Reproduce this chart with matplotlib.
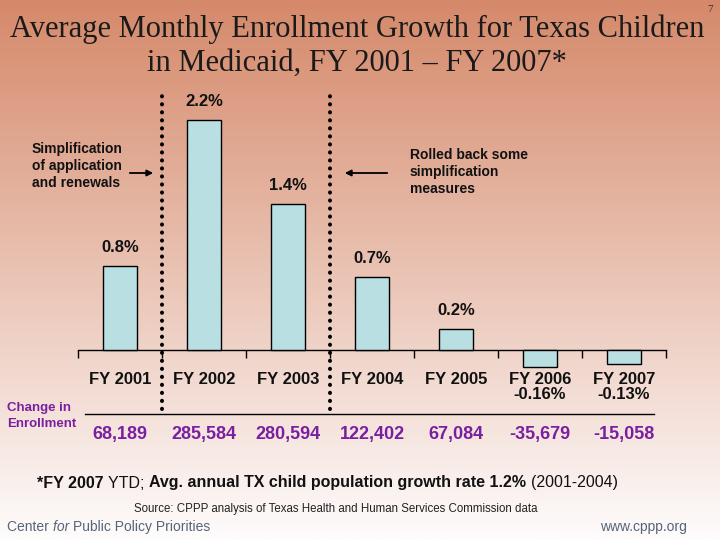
import numpy as np
import matplotlib
matplotlib.use('Agg')
import matplotlib.pyplot as plt
from matplotlib.transforms import blended_transform_factory

# data
years = ['FY 2001', 'FY 2002', 'FY 2003', 'FY 2004', 'FY 2005', 'FY 2006', 'FY 2007']
growth = [0.8, 2.2, 1.4, 0.7, 0.2, -0.16, -0.13]
enroll_change = [68189, 285584, 280594, 122402, 67084, -35679, -15058]
policy_breaks = [0.5, 2.5]  # between FY2001/FY2002 and FY2003/FY2004

W, H = 720, 540
plt.rcParams['font.family'] = ['Liberation Sans', 'DejaVu Sans']


def px(x, y):
    # pixel position (from top-left) -> figure fraction
    return x / W, 1 - y / H


fig = plt.figure(figsize=(7.2, 5.4), dpi=100)

# background gradient, salmon at top fading to white
bg = fig.add_axes([0, 0, 1, 1], zorder=-10)
top = np.array([213, 137, 106]) / 255
bottom = np.array([254, 252, 252]) / 255
t = np.linspace(0, 1, 256)[:, None]
grad = top + (bottom - top) * t
bg.imshow(grad[:, None, :].repeat(2, axis=1), aspect='auto', extent=[0, 1, 0, 1])
bg.axis('off')

ax = fig.add_axes([78 / W, (H - 420) / H, 588 / W, 330 / H])
ax.patch.set_alpha(0)
ax.set_xlim(-0.5, 6.5)
ax.set_ylim(-0.67, 2.49)

x = np.arange(len(years))
ax.bar(x, growth, width=0.4, color='#b9dfe3', edgecolor='black', linewidth=1, zorder=3)

for xi, v in zip(x, growth):
    if v > 0:
        ax.annotate(f'{v:.1f}%', (xi, v), xytext=(0, 8), textcoords='offset points',
                    ha='center', va='bottom', fontsize=12, fontweight='bold', color='#111111')

for s in ['left', 'right', 'top']:
    ax.spines[s].set_visible(False)
ax.spines['bottom'].set_position(('data', 0))
ax.spines['bottom'].set_linewidth(1)
ax.set_yticks([])

tick_labels = [f'{y}\n{v:.2f}%' if v < 0 else y for y, v in zip(years, growth)]
ax.set_xticks(x)
ax.set_xticklabels(tick_labels, fontsize=12, fontweight='bold', color='#111111')
ax.set_xticks(np.arange(-0.5, 7, 1), minor=True)
ax.tick_params(axis='x', which='major', length=0, pad=16)
ax.tick_params(axis='x', which='minor', length=6, width=1, direction='out')
for lab in ax.get_xticklabels():
    lab.set_linespacing(0.95)

# dotted policy-change lines
for b in policy_breaks:
    ax.axvline(b, ymin=(420 - 409) / 330, ymax=(420 - 93) / 330, color='black', lw=2.9,
               linestyle=(0, (0.05, 1.94)), dash_capstyle='round', clip_on=False, zorder=4)

# enrollment change row
tr = blended_transform_factory(ax.transData, fig.transFigure)
for xi, n in zip(x, enroll_change):
    ax.text(xi, px(0, 435)[1], f'{n:,}', transform=tr, ha='center', va='center',
            fontsize=13, fontweight='bold', color='#7a1fa0')
fig.add_artist(plt.Line2D([85 / W, 654 / W], [px(0, 414)[1]] * 2, color='black', lw=1))
fig.text(*px(7, 416), 'Change in\nEnrollment', ha='left', va='center', fontsize=9.5,
         fontweight='bold', color='#7a1fa0', linespacing=1.35)

# annotations
fig.text(*px(32, 166), 'Simplification\nof application\nand renewals', ha='left', va='center',
         fontsize=10, fontweight='bold', color='#111111', linespacing=1.25)
fig.text(*px(410, 172), 'Rolled back some\nsimplification\nmeasures', ha='left', va='center',
         fontsize=10, fontweight='bold', color='#111111', linespacing=1.25)
arrow = dict(arrowstyle='-|>', color='black', lw=1.3, mutation_scale=9)
ax.annotate('', xy=px(156, 173), xytext=px(127, 173), xycoords='figure fraction',
            textcoords='figure fraction', arrowprops=arrow)
ax.annotate('', xy=px(342, 173), xytext=px(390, 173), xycoords='figure fraction',
            textcoords='figure fraction', arrowprops=arrow)

# title
fig.text(*px(357, 46), 'Average Monthly Enrollment Growth for Texas Children\nin Medicaid, FY 2001 \u2013 FY 2007*',
         ha='center', va='center', fontsize=22, family=['Liberation Serif', 'DejaVu Serif'],
         color='#1a1a1a', linespacing=1.2)
fig.text(*px(710, 10), '7', ha='center', va='center', fontsize=8,
         family=['Liberation Serif', 'DejaVu Serif'], color='#333333')

# footnote with mixed weights, each piece placed after the previous one
parts = [('*FY 2007 ', 'bold'), ('YTD; ', 'normal'),
         ('Avg. annual TX child population growth rate 1.2% ', 'bold'), ('(2001-2004)', 'normal')]
prev = fig.text(*px(37, 483), parts[0][0], ha='left', va='center', fontsize=11.5,
                fontweight=parts[0][1], color='#111111')
for txt, wt in parts[1:]:
    prev = ax.annotate(txt, xy=(1, 0), xycoords=prev, ha='left', va='bottom', fontsize=11.5,
                       fontweight=wt, color='#111111', annotation_clip=False)

fig.text(*px(336, 509), 'Source: CPPP analysis of Texas Health and Human Services Commission data',
         ha='center', va='center', fontsize=8.3, color='#222222')

foot_color = '#56657a'
c1 = fig.text(*px(7, 527), 'Center ', ha='left', va='center', fontsize=10, color=foot_color)
c2 = ax.annotate('for ', xy=(1, 0), xycoords=c1, ha='left', va='bottom', fontsize=10,
                 style='italic', color=foot_color, annotation_clip=False)
ax.annotate('Public Policy Priorities', xy=(1, 0), xycoords=c2, ha='left', va='bottom',
            fontsize=10, color=foot_color, annotation_clip=False)
fig.text(*px(687, 527), 'www.cppp.org', ha='right', va='center', fontsize=10, color=foot_color)

fig.savefig('out.png', dpi=100)
